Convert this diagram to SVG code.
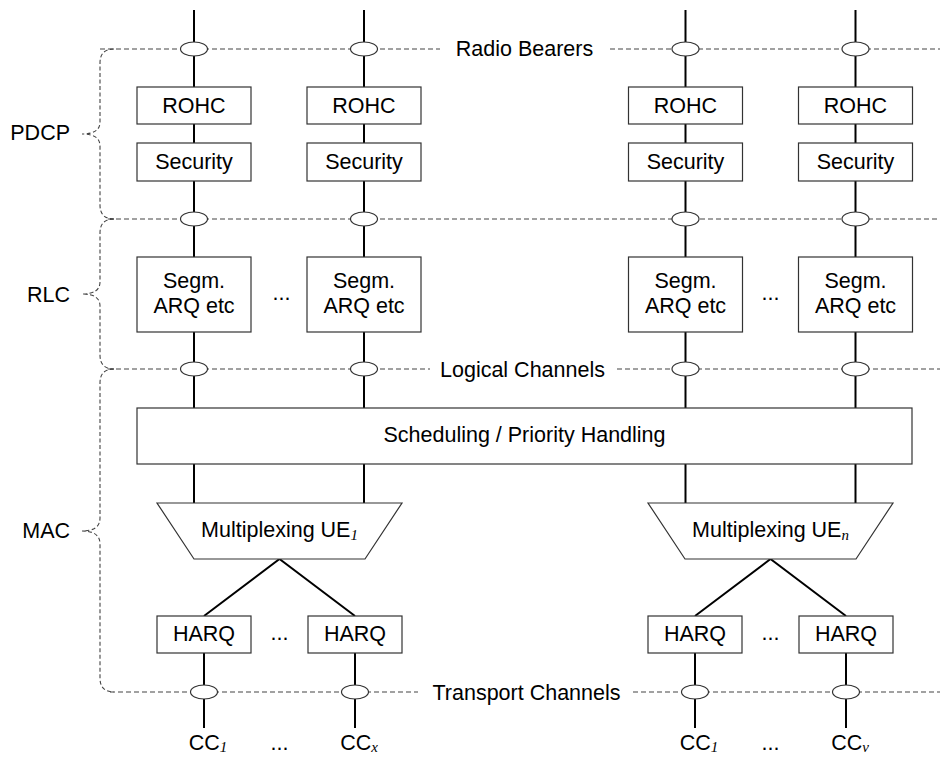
<svg xmlns="http://www.w3.org/2000/svg" width="940" height="757" viewBox="0 0 940 757">
<style>
.bg{fill:#ffffff}
.box{fill:#ffffff;stroke:#333333;stroke-width:1.2}
.wire{stroke:#000000;stroke-width:2;fill:none}
.dash{stroke:#444444;stroke-width:1.1;stroke-dasharray:5,3;fill:none}
.brace{stroke:#444444;stroke-width:1.1;stroke-dasharray:4,2.5;fill:none}
.sap{fill:#ffffff;stroke:#333333;stroke-width:1.2}
.t{font-family:"Liberation Sans",Arial,sans-serif;font-size:21.5px;fill:#000000;text-anchor:middle}
.l{font-family:"Liberation Sans",Arial,sans-serif;font-size:21.5px;fill:#000000;text-anchor:end}
.sub{font-family:"Liberation Serif","Times New Roman",serif;font-style:italic;font-size:15px}
</style>
<defs>
<ellipse id="sapShape" cx="0" cy="0" rx="13.5" ry="7"/>
</defs>
<rect class="bg" x="0" y="0" width="940" height="757"/>

<g id="connectors">
<path class="dash" d="M100,49 H440 M610,49 H940"/>
<path class="dash" d="M108,219 H940"/>
<path class="dash" d="M108,369 H430 M617,369 H940"/>
<path class="dash" d="M110,692 H418 M633,692 H940"/>
<path class="brace" d="M114,49 Q100,49 100,63 L100,122 Q100,134 82,134 Q100,134 100,146 L100,205 Q100,219 114,219"/>
<path class="brace" d="M114,219 Q100,219 100,233 L100,282 Q100,294 82,294 Q100,294 100,306 L100,355 Q100,369 114,369"/>
<path class="brace" d="M114,369 Q100,369 100,383 L100,518 Q100,531 82,531 Q100,531 100,544 L100,678 Q100,692 114,692"/>
<path class="wire" d="M194,10 V87 M194,124 V143 M194,181 V257 M194,332 V408 M194,464 V503"/>
<path class="wire" d="M364,10 V87 M364,124 V143 M364,181 V257 M364,332 V408 M364,464 V503"/>
<path class="wire" d="M685.5,10 V87 M685.5,124 V143 M685.5,181 V257 M685.5,332 V408 M685.5,464 V503"/>
<path class="wire" d="M855.5,10 V87 M855.5,124 V143 M855.5,181 V257 M855.5,332 V408 M855.5,464 V503"/>
<path class="wire" d="M204,616 L279.5,559 L355,616"/>
<path class="wire" d="M695,616 L770.5,559 L846,616"/>
<path class="wire" d="M204,653 V728 M355,653 V728 M695,653 V728 M846,653 V728"/>
<use href="#sapShape" class="sap" x="194" y="49"/>
<use href="#sapShape" class="sap" x="364" y="49"/>
<use href="#sapShape" class="sap" x="685.5" y="49"/>
<use href="#sapShape" class="sap" x="855.5" y="49"/>
<use href="#sapShape" class="sap" x="194" y="219"/>
<use href="#sapShape" class="sap" x="364" y="219"/>
<use href="#sapShape" class="sap" x="685.5" y="219"/>
<use href="#sapShape" class="sap" x="855.5" y="219"/>
<use href="#sapShape" class="sap" x="194" y="369"/>
<use href="#sapShape" class="sap" x="364" y="369"/>
<use href="#sapShape" class="sap" x="685.5" y="369"/>
<use href="#sapShape" class="sap" x="855.5" y="369"/>
<use href="#sapShape" class="sap" x="204" y="692"/>
<use href="#sapShape" class="sap" x="355" y="692"/>
<use href="#sapShape" class="sap" x="695" y="692"/>
<use href="#sapShape" class="sap" x="846" y="692"/>
</g>

<g id="labels">
<text class="l" x="70" y="140">PDCP</text>
<text class="l" x="70" y="302">RLC</text>
<text class="l" x="70" y="538">MAC</text>
<text class="t" x="524.5" y="56">Radio Bearers</text>
<text class="t" x="522.5" y="377">Logical Channels</text>
<text class="t" x="526.5" y="699.5">Transport Channels</text>
<text class="t" x="281.5" y="300">...</text>
<text class="t" x="770.5" y="300">...</text>
<text class="t" x="279.5" y="640">...</text>
<text class="t" x="770.5" y="640">...</text>
<text class="t" x="279.5" y="750">...</text>
<text class="t" x="770.5" y="750">...</text>
</g>

<g id="rohc1"><rect class="box" x="137" y="87" width="114" height="37"/><text class="t" x="194" y="113">ROHC</text></g>
<g id="rohc2"><rect class="box" x="307" y="87" width="114" height="37"/><text class="t" x="364" y="113">ROHC</text></g>
<g id="rohc3"><rect class="box" x="628.5" y="87" width="114" height="37"/><text class="t" x="685.5" y="113">ROHC</text></g>
<g id="rohc4"><rect class="box" x="798.5" y="87" width="114" height="37"/><text class="t" x="855.5" y="113">ROHC</text></g>

<g id="security1"><rect class="box" x="137" y="143" width="114" height="38"/><text class="t" x="194" y="169">Security</text></g>
<g id="security2"><rect class="box" x="307" y="143" width="114" height="38"/><text class="t" x="364" y="169">Security</text></g>
<g id="security3"><rect class="box" x="628.5" y="143" width="114" height="38"/><text class="t" x="685.5" y="169">Security</text></g>
<g id="security4"><rect class="box" x="798.5" y="143" width="114" height="38"/><text class="t" x="855.5" y="169">Security</text></g>

<g id="rlc1"><rect class="box" x="137" y="257" width="114" height="75"/><text class="t" x="194" y="288">Segm.</text><text class="t" x="194" y="313">ARQ etc</text></g>
<g id="rlc2"><rect class="box" x="307" y="257" width="114" height="75"/><text class="t" x="364" y="288">Segm.</text><text class="t" x="364" y="313">ARQ etc</text></g>
<g id="rlc3"><rect class="box" x="628.5" y="257" width="114" height="75"/><text class="t" x="685.5" y="288">Segm.</text><text class="t" x="685.5" y="313">ARQ etc</text></g>
<g id="rlc4"><rect class="box" x="798.5" y="257" width="114" height="75"/><text class="t" x="855.5" y="288">Segm.</text><text class="t" x="855.5" y="313">ARQ etc</text></g>

<g id="scheduling"><rect class="box" x="137" y="408" width="775" height="56"/><text class="t" x="524.5" y="442">Scheduling / Priority Handling</text></g>

<g id="mux1"><polygon class="box" points="157,503 402,503 365,559 194,559"/><text class="t" x="279.5" y="537">Multiplexing UE<tspan class="sub" dy="3">1</tspan></text></g>
<g id="muxn"><polygon class="box" points="648,503 893,503 856,559 685,559"/><text class="t" x="770.5" y="537">Multiplexing UE<tspan class="sub" dy="3">n</tspan></text></g>

<g id="harq1"><rect class="box" x="157" y="616" width="94" height="37"/><text class="t" x="204" y="641">HARQ</text></g>
<g id="harq2"><rect class="box" x="308" y="616" width="94" height="37"/><text class="t" x="355" y="641">HARQ</text></g>
<g id="harq3"><rect class="box" x="648" y="616" width="94" height="37"/><text class="t" x="695" y="641">HARQ</text></g>
<g id="harq4"><rect class="box" x="799" y="616" width="94" height="37"/><text class="t" x="846" y="641">HARQ</text></g>

<g id="cc1"><text class="t" x="208" y="750">CC<tspan class="sub" dy="2">1</tspan></text></g>
<g id="ccx"><text class="t" x="359" y="750">CC<tspan class="sub" dy="2">x</tspan></text></g>
<g id="cc1n"><text class="t" x="699" y="750">CC<tspan class="sub" dy="2">1</tspan></text></g>
<g id="ccv"><text class="t" x="850" y="750">CC<tspan class="sub" dy="2">v</tspan></text></g>
</svg>
